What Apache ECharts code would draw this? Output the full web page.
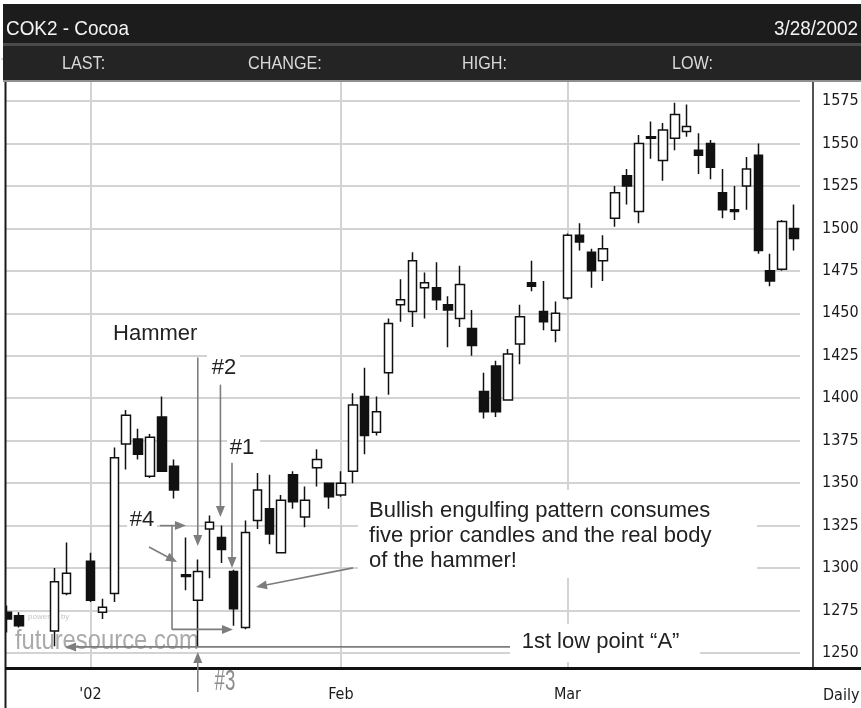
<!DOCTYPE html>
<html>
<head>
<meta charset="utf-8">
<script src="https://cdn.jsdelivr.net/npm/echarts@6/dist/echarts.min.js"></script>
<style>
  html, body { margin: 0; padding: 0; background: #fff; }
  #chart { width: 861px; height: 708px; }
</style>
</head>
<body>
<div id="chart"></div>
<script>
// Daily sessions (category slots); slots without a row of prices stay empty
const dates = [
  '12/20', '12/21', '12/24', '12/26', '12/27', '12/28', '12/31',
  '1/2', '1/3', '1/4', '1/7', '1/8', '1/9', '1/10', '1/11', '1/14', '1/15', '1/16', '1/17', '1/18',
  '1/22', '1/23', '1/24', '1/25', '1/28', '1/29', '1/30', '1/31',
  '2/1', '2/4', '2/5', '2/6', '2/7', '2/8', '2/11', '2/12', '2/13', '2/14', '2/15',
  '2/19', '2/20', '2/21', '2/22', '2/25', '2/26', '2/27', '2/28',
  '3/1', '3/4', '3/5', '3/6', '3/7', '3/8', '3/11', '3/12', '3/13', '3/14', '3/15',
  '3/18', '3/19', '3/20', '3/21', '3/22', '3/25', '3/26', '3/27', '3/28'
];
const opens = [
  1274, 1272, null, null, 1263, 1285, null,
  1304, 1274, 1285, 1373, 1376, 1354, 1389, 1360, 1296, 1281, 1323, 1318, 1298,
  1265, 1328, 1335, 1309, 1355, 1330, 1359, 1350,
  1343, 1357, 1401, 1380, 1415, 1455, 1451, 1465, 1465, 1455, 1447,
  1441, 1404, 1419, 1399, 1432, 1468, 1451, 1440,
  1459, 1496, 1486, 1481, 1506, 1531, 1510, 1554, 1540, 1553, 1557,
  1546, 1550, 1521, 1511, 1525, 1543, 1475, 1476, 1500
];
const closes = [
  1270, 1266, null, null, 1292, 1297, null,
  1281, 1277, 1365, 1390, 1367, 1377, 1357, 1346, 1295, 1298, 1327, 1311, 1276,
  1321, 1346, 1320, 1340, 1339, 1340, 1364, 1342,
  1350, 1396, 1378, 1392, 1444, 1458, 1481, 1468, 1458, 1452, 1467,
  1431, 1392, 1392, 1426, 1448, 1466, 1445, 1450,
  1496, 1492, 1475, 1488, 1521, 1525, 1550, 1553, 1558, 1567, 1560,
  1543, 1536, 1511, 1510, 1535, 1487, 1469, 1504, 1494
];
const lows = [
  1262, 1265, null, null, 1254, 1284, null,
  1280, 1270, 1280, 1358, 1364, 1353, 1357, 1341, 1287, 1254, 1294, 1303, 1266,
  1264, 1323, 1314, 1309, 1335, 1324, 1348, 1335,
  1342, 1350, 1367, 1378, 1402, 1445, 1442, 1447, 1452, 1430, 1442,
  1425, 1388, 1389, 1399, 1420, 1463, 1440, 1433,
  1458, 1487, 1465, 1469, 1501, 1514, 1503, 1541, 1528, 1546, 1554,
  1532, 1529, 1506, 1505, 1511, 1485, 1466, 1475, 1487
];
const highs = [
  1278, 1274, null, null, 1300, 1315, null,
  1309, 1282, 1371, 1393, 1382, 1379, 1401, 1364, 1318, 1305, 1331, 1325, 1299,
  1328, 1356, 1355, 1343, 1357, 1348, 1370, 1350,
  1357, 1403, 1418, 1401, 1447, 1470, 1486, 1474, 1480, 1460, 1478,
  1452, 1415, 1422, 1429, 1455, 1481, 1469, 1457,
  1497, 1503, 1488, 1496, 1525, 1535, 1555, 1563, 1562, 1574, 1573,
  1556, 1552, 1535, 1525, 1542, 1550, 1485, 1505, 1514
];

// Axis ticks and labels
const monthTicks = { '1/2': "'02", '2/1': 'Feb', '3/1': 'Mar' };
const priceMin = 1225, priceMax = 1600, priceStep = 25;

// Header texts
const symbolTitle = 'COK2 - Cocoa';
const quoteDate = '3/28/2002';
const quoteFields = ['LAST:', 'CHANGE:', 'HIGH:', 'LOW:'];

// Annotation texts
const notes = {
  hammer: 'Hammer',
  one: '#1',
  two: '#2',
  three: '#3',
  four: '#4',
  engulf: 'Bullish engulfing pattern consumes\nfive prior candles and the real body\nof the hammer!',
  lowA: '1st low point \u201CA\u201D'
};

const NARROW = "'Liberation Sans Narrow','DejaVu Sans Condensed','Liberation Sans',sans-serif";
const SANS = "'Liberation Sans',Arial,Helvetica,sans-serif";
const INK = '#1a1a1a';
const GRID = '#d3d3d3';
const NOTE = '#7d7d7d';

const candles = opens.map((o, i) => o == null ? '-' : [o, closes[i], lows[i], highs[i]]);

const chart = echarts.init(document.getElementById('chart'), null, { renderer: 'canvas' });

chart.setOption({
  animation: false,
  backgroundColor: '#ffffff',
  grid: { left: 1, right: 61, top: 58.54, bottom: 12.54, containLabel: false, outerBoundsMode: 'none' },
  xAxis: {
    type: 'category',
    data: dates,
    boundaryGap: true,
    z: 40,
    axisLine: { show: false },
    axisTick: { show: false },
    splitLine: { show: false },
    axisLabel: {
      interval: 0, margin: -1, verticalAlign: 'middle',
      color: INK, fontSize: 16, fontFamily: NARROW,
      formatter: v => monthTicks[v] || ''
    },
    name: 'Daily',
    nameLocation: 'end',
    nameGap: 23,
    nameTextStyle: { color: INK, fontSize: 16, fontFamily: NARROW, verticalAlign: 'middle', align: 'left' }
  },
  yAxis: {
    type: 'value',
    position: 'right',
    min: priceMin, max: priceMax, interval: priceStep,
    offset: 13,
    axisLine: { show: true, lineStyle: { color: INK, width: 1.5 } },
    axisTick: { show: false },
    axisLabel: {
      color: INK, fontSize: 16, fontFamily: NARROW, margin: 9,
      showMinLabel: false, showMaxLabel: false,
      formatter: v => String(v)
    },
    splitLine: { show: true, lineStyle: { color: GRID, width: 2 } }
  },
  series: [{
    type: 'candlestick',
    data: candles,
    barWidth: 9,
    itemStyle: {
      color: '#ffffff', color0: '#111111',
      borderColor: '#111111', borderColor0: '#111111', borderWidth: 1.5
    },
    markLine: {
      silent: true, z: 1, symbol: 'none',
      label: { show: false },
      lineStyle: { color: GRID, width: 2, type: 'solid' },
      data: Object.keys(monthTicks).map(d => ({ xAxis: d }))
    }
  }]
});

// pixel position of a (slot, price) pair; fractional slots interpolate between bands
function P(slot, price) {
  const a = chart.convertToPixel({ gridIndex: 0 }, [0, price]);
  const b = chart.convertToPixel({ gridIndex: 0 }, [1, price]);
  return [a[0] + slot * (b[0] - a[0]), a[1]];
}

function line(p, q, color, width, z) {
  return { type: 'line', z: z, shape: { x1: p[0], y1: p[1], x2: q[0], y2: q[1] },
           style: { stroke: color, lineWidth: width } };
}

function arrow(from, to) {
  const p = P(from[0], from[1]), q = P(to[0], to[1]);
  const dx = q[0] - p[0], dy = q[1] - p[1];
  const len = Math.hypot(dx, dy) || 1;
  const ux = dx / len, uy = dy / len, nx = -uy, ny = ux;
  const L = 11, W = 4.5;
  const bx = q[0] - ux * L, by = q[1] - uy * L;
  return [
    line(p, [bx + ux * 2, by + uy * 2], NOTE, 1.6, 25),
    { type: 'polygon', z: 25,
      shape: { points: [[q[0], q[1]], [bx + nx * W, by + ny * W], [bx - nx * W, by - ny * W]] },
      style: { fill: NOTE } }
  ];
}

function path(points) {
  const pts = points.map(s => P(s[0], s[1]));
  return { type: 'polyline', z: 25, shape: { points: pts }, style: { stroke: NOTE, lineWidth: 1.6, fill: null } };
}

function box(a, b) {
  const p = P(a[0], a[1]), q = P(b[0], b[1]);
  return { type: 'rect', z: 22,
           shape: { x: Math.min(p[0], q[0]), y: Math.min(p[1], q[1]), width: Math.abs(q[0] - p[0]), height: Math.abs(q[1] - p[1]) },
           style: { fill: '#ffffff' } };
}

function label(text, at, opts) {
  const p = P(at[0], at[1]);
  const o = opts || {};
  return {
    type: 'text', z: 26, x: p[0], y: p[1], scaleX: o.scaleX || 1,
    style: {
      text: text, x: 0, y: 0,
      fill: o.fill || '#222222',
      font: (o.size || 22) + 'px ' + (o.family || SANS),
      align: o.align || 'left', textAlign: o.align || 'left',
      verticalAlign: 'middle', textVerticalAlign: 'middle',
      lineHeight: o.lineHeight || undefined
    }
  };
}

function headerText(text, x, y, size, fill, align) {
  return {
    type: 'text', z: 31, x: x, y: y, scaleX: 0.9,
    style: {
      text: text, x: 0, y: 0, fill: fill, font: size + 'px ' + SANS,
      align: align, textAlign: align, verticalAlign: 'middle', textVerticalAlign: 'middle'
    }
  };
}

const els = [];

// quote header
els.push({ type: 'rect', z: 30, shape: { x: 3, y: 4, width: 858, height: 39 }, style: { fill: '#1c1c1c' } });
els.push({ type: 'rect', z: 30, shape: { x: 3, y: 43, width: 858, height: 3 }, style: { fill: '#4a4a4a' } });
els.push({ type: 'rect', z: 30, shape: { x: 3, y: 46, width: 858, height: 34 }, style: { fill: '#242424' } });
els.push({ type: 'rect', z: 30, shape: { x: 3, y: 80, width: 858, height: 2 }, style: { fill: '#8f8f8f' } });
els.push(headerText(symbolTitle, 6, 29.5, 21, '#f4f4f4', 'left'));
els.push(headerText(quoteDate, 858, 29.5, 21, '#f4f4f4', 'right'));
[62, 248, 462, 672].forEach((x, i) => els.push(headerText(quoteFields[i], x, 64, 18, '#d9d9d9', 'left')));

// frame: left edge, bottom band and heavy baseline
els.push({ type: 'rect', z: 20, shape: { x: 0, y: 82, width: 5, height: 626 }, style: { fill: '#ffffff' } });
els.push({ type: 'rect', z: 20, shape: { x: 0, y: 670, width: 861, height: 38 }, style: { fill: '#ffffff' } });
els.push(line([5.5, 82], [5.5, 708], INK, 2, 21));
els.push(line([5, 668.5], [861, 668.5], '#111111', 3, 21));

// watermark
els.push({ type: 'text', z: 1, x: 15, y: 641, scaleX: 0.85,
  style: { text: 'futuresource.com', x: 0, y: 0, fill: '#aaaaaa', font: '28px ' + SANS,
           align: 'left', textAlign: 'left', verticalAlign: 'middle', textVerticalAlign: 'middle' } });
els.push({ type: 'text', z: 1, x: 28, y: 617,
  style: { text: 'powered by', x: 0, y: 0, fill: '#c4c4c4', font: '8px ' + SANS,
           align: 'left', textAlign: 'left', verticalAlign: 'middle', textVerticalAlign: 'middle' } });

// white boxes behind the callout texts
els.push(box([16.77, 1427.2], [19.54, 1406]));
els.push(box([18.45, 1378.4], [21.22, 1363.6]));
els.push(box([10.07, 1336.5], [12.58, 1318.9]));
els.push(box([29.44, 1346], [62.9, 1294.2]));
els.push(box([42.18, 1267.1], [58.12, 1244.7]));

// callouts
els.push(label(notes.hammer, [8.9, 1438]));
els.push(...arrow([16, 1424], [16, 1313]));

els.push(label(notes.two, [18.2, 1418], { align: 'center' }));
els.push(...arrow([17.9, 1408], [17.9, 1330]));

els.push(label(notes.one, [19.71, 1371], { align: 'center' }));
els.push(...arrow([18.87, 1362], [18.87, 1300]));

els.push(label(notes.four, [11.32, 1328.3], { align: 'center' }));
els.push(...arrow([12.83, 1325], [15.01, 1325]));
els.push(path([[13.84, 1325], [13.84, 1263.9]]));
els.push(...arrow([13.84, 1263.9], [18.95, 1263.9]));
els.push(...arrow([11.91, 1312.4], [14.26, 1303.6]));

els.push(label(notes.engulf, [30.36, 1319.2], { lineHeight: 25 }));
els.push(...arrow([29.02, 1300.1], [20.88, 1288.9]));

els.push(label(notes.lowA, [43.16, 1256.8]));
els.push(...arrow([42.18, 1253.6], [4.87, 1253.6]));

els.push(...arrow([16, 1227], [16, 1250.6]));
els.push(label(notes.three, [18.28, 1233], { align: 'center', size: 30, family: SANS, fill: '#8c8c8c', scaleX: 0.62 }));

chart.setOption({ graphic: { elements: els } });
</script>
</body>
</html>
